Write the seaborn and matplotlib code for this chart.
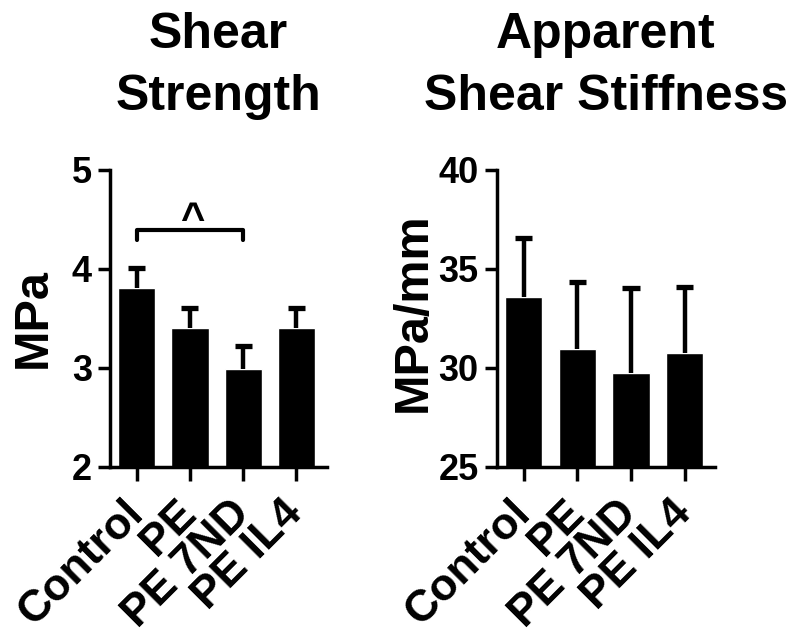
import numpy as np
import pandas as pd
import matplotlib
matplotlib.use("Agg")
import matplotlib.pyplot as plt
import seaborn as sns

# groups and values
groups = ["Control", "PE", "PE 7ND", "PE IL4"]
strength_mean = [3.81, 3.40, 2.99, 3.40]
strength_err = [0.20, 0.20, 0.23, 0.20]
stiff_mean = [33.6, 30.95, 29.75, 30.75]
stiff_err = [2.95, 3.4, 4.3, 3.35]

sns.set_style("ticks")
plt.rcParams["font.family"] = ["Liberation Sans", "DejaVu Sans"]
plt.rcParams["font.weight"] = "bold"
for k in ["text.color", "axes.labelcolor", "xtick.color", "ytick.color", "axes.edgecolor"]:
    plt.rcParams[k] = "black"

fig = plt.figure(figsize=(8, 6.43), dpi=100)
ax1 = fig.add_axes([0.1375, 0.274, 0.271, 0.462])
ax2 = fig.add_axes([0.621, 0.274, 0.273, 0.462])


def draw(ax, means, errs, ylim, yticks, ylabel, title, lab_x, lab_y):
    df = pd.DataFrame({"group": groups, "value": means})
    sns.barplot(data=df, x="group", y="value", color="black", width=0.7,
                saturation=1, ax=ax, errorbar=None)
    # upper error bars only (SD above the bar)
    x = np.arange(len(groups))
    tops = np.array(means) + np.array(errs)
    ax.vlines(x, means, tops, color="black", lw=3.2)
    ax.hlines(tops, x - 0.16, x + 0.16, color="black", lw=3.8)
    ax.set_ylim(*ylim)
    ax.set_xlim(-0.5, 3.57)
    ax.set_yticks(yticks)
    ax.set_yticklabels([str(t) for t in yticks], fontsize=26, fontweight="bold")
    ax.set_xticks(range(len(groups)))
    ax.set_xticklabels(groups, rotation=45, ha="right", va="center",
                       rotation_mode="anchor", fontsize=32, fontweight="bold")
    ax.set_xlabel("")
    ax.set_ylabel(ylabel, fontsize=35, fontweight="bold")
    ax.yaxis.set_label_coords(lab_x, lab_y)
    ax.set_title(title, fontsize=36, fontweight="bold", pad=43, linespacing=1.45)
    for s in ["top", "right"]:
        ax.spines[s].set_visible(False)
    for s in ["left", "bottom"]:
        ax.spines[s].set_linewidth(2.5)
    ax.tick_params(width=2.5, length=9, pad=4)
    ax.tick_params(axis="x", length=10, pad=19)


draw(ax1, strength_mean, strength_err, (2, 5), [2, 3, 4, 5], "MPa", "Shear\nStrength",
     -0.25, 0.5)
draw(ax2, stiff_mean, stiff_err, (25, 40), [25, 30, 35, 40], "MPa/mm",
     "Apparent\nShear Stiffness", -0.28, 0.52)

# significance bracket between Control and PE 7ND
bx = [0, 0, 2, 2]
by = [4.29, 4.39, 4.39, 4.29]
ax1.plot(bx, by, color="black", lw=3, clip_on=False)
ax1.text(1.05, 4.28, "^", ha="center", va="bottom", fontsize=30, fontweight="bold")

fig.savefig("out.png", dpi=100)
